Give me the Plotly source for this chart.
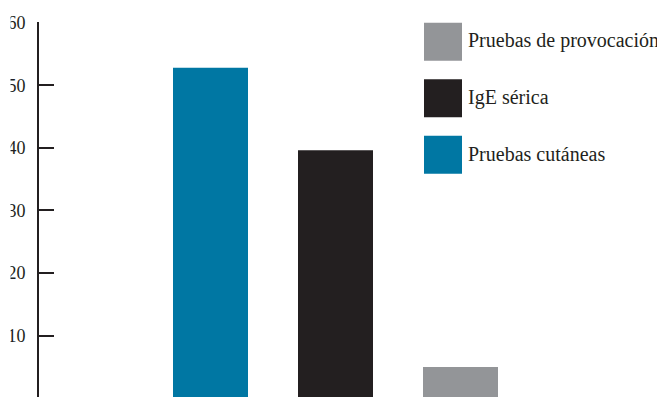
import plotly.graph_objects as go

categories = ["Pruebas cutáneas", "IgE sérica", "Pruebas de provocación"]
values = [52.8, 39.6, 5]
colors = ["#0077a3", "#231f20", "#939598"]
legend_order = ["Pruebas de provocación", "IgE sérica", "Pruebas cutáneas"]
tick_vals = [0, 10, 20, 30, 40, 50, 60]

# page has an 8px body margin: figure is sized/positioned to compensate
OFF = 8
W, H = 665 - OFF, 397 - OFF
Y_TOP = 60.1            # small headroom so the 60 tick is drawn
ML, MR, MB = 39 - OFF, 0, 0
MT = 22.5 - OFF - (Y_TOP - 60) * 6.264
PW, PH = W - ML - MR, H - MT - MB

def px(x):  # page pixel x -> paper
    return (x - OFF - ML) / PW

def py(y):  # page pixel y -> paper
    return (H - MB - (y - OFF)) / PH

fig = go.Figure()
fig.add_trace(go.Bar(
    x=categories, y=values, width=0.6, base=0,
    marker=dict(color=colors, line=dict(width=0)),
    showlegend=False, hoverinfo="skip",
))

shapes = []
annotations = []
color_of = dict(zip(categories, colors))
for i, name in enumerate(legend_order):
    top = 22.7 + i * 56.5
    shapes.append(dict(type="rect", xref="paper", yref="paper",
                       x0=px(424), x1=px(462), y0=py(top + 38), y1=py(top),
                       fillcolor=color_of[name], line=dict(width=0)))
    annotations.append(dict(xref="paper", yref="paper", x=px(466), y=py(top + 18),
                            text=name, showarrow=False, xanchor="left", yanchor="middle",
                            font=dict(family="Liberation Serif", size=20, color="#231f20")))

# white strip that crops the left edge of the tick labels, as in the reference
shapes.append(dict(type="rect", xref="paper", yref="paper", layer="above",
                   x0=px(OFF - 1), x1=px(10.5), y0=0, y1=1.05,
                   fillcolor="white", line=dict(width=0)))

fig.update_layout(
    width=W, height=H,
    margin=dict(l=ML, r=MR, t=MT, b=MB, pad=0, autoexpand=False),
    paper_bgcolor="white", plot_bgcolor="white",
    shapes=shapes, annotations=annotations,
    font=dict(family="Liberation Serif", color="#231f20"),
    xaxis=dict(range=[-1.372, 3.636], showticklabels=False, showgrid=False,
               zeroline=False, showline=False, ticks="", automargin=False),
    yaxis=dict(range=[0.21, Y_TOP], tickvals=tick_vals, showgrid=False, zeroline=False,
               showline=True, linecolor="#231f20", linewidth=2, automargin=False,
               ticks="inside", ticklen=15, tickwidth=2, tickcolor="#231f20",
               ticklabelstandoff=8,
               tickfont=dict(family="Liberation Serif", size=18, color="#231f20")),
)
fig.write_html("out.html")
